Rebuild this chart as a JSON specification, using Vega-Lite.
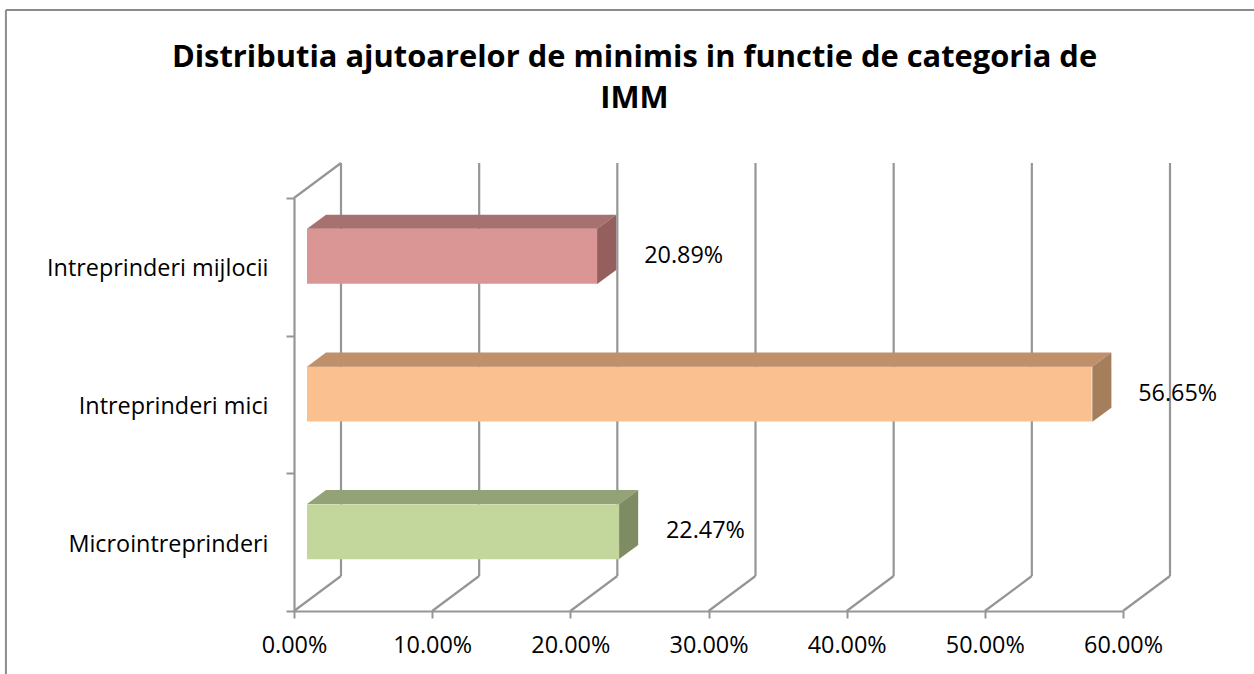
{
"$schema":"https://vega.github.io/schema/vega-lite/v6.json",
"width":829,"height":413,
"autosize":{"type":"none"},
"padding":{"left":294,"top":198,"right":131,"bottom":63},
"background":"white",
"view":{"stroke":null},
"config":{"font":"Open Sans"},
"title":{"text":["Distributia ajutoarelor de minimis in functie de categoria de","IMM"],"font":"Open Sans","fontSize":30.85,"fontWeight":"bold","color":"#000000","anchor":"middle","frame":"group","dx":-74,"offset":-106,"lineHeight":41},
"datasets":{
"bare":[
{"categorie":"Intreprinderi mijlocii","valoare":0.2089},
{"categorie":"Intreprinderi mici","valoare":0.5665},
{"categorie":"Microintreprinderi","valoare":0.2247}],
"repere":[{"prag":0},{"prag":0.1},{"prag":0.2},{"prag":0.3},{"prag":0.4},{"prag":0.5},{"prag":0.6}],
"sus":[
{"fata":"mijlocii sus","nivel":2.777,"de_la":0.00941,"pana_la":0.2194},
{"fata":"mijlocii sus","nivel":2.879,"de_la":0.02317,"pana_la":0.2332},
{"fata":"mici sus","nivel":1.775,"de_la":0.00941,"pana_la":0.5778},
{"fata":"mici sus","nivel":1.877,"de_la":0.02317,"pana_la":0.5916},
{"fata":"micro sus","nivel":0.777,"de_la":0.00941,"pana_la":0.2353},
{"fata":"micro sus","nivel":0.879,"de_la":0.02317,"pana_la":0.2491}],
"lateral":[
{"fata":"mijlocii lateral","poz":0.2194,"jos":2.375,"sus":2.777},
{"fata":"mijlocii lateral","poz":0.2332,"jos":2.477,"sus":2.879},
{"fata":"mici lateral","poz":0.5778,"jos":1.375,"sus":1.775},
{"fata":"mici lateral","poz":0.5916,"jos":1.477,"sus":1.877},
{"fata":"micro lateral","poz":0.2353,"jos":0.378,"sus":0.777},
{"fata":"micro lateral","poz":0.2491,"jos":0.480,"sus":0.879}]
},
"resolve":{"scale":{"y":"independent"}},
"layer":[
{"data":{"name":"repere"},
 "mark":{"type":"rule","color":"#969696","strokeWidth":2.2,"xOffset":47,"x2Offset":47,"yOffset":-35,"y2Offset":-35},
 "encoding":{
  "x":{"field":"prag","type":"quantitative","scale":{"domain":[0,0.6],"nice":false},
   "axis":{"values":[0,0.1,0.2,0.3,0.4,0.5,0.6],"format":".2%","grid":false,"title":null,"domainColor":"#969696","domainWidth":2.2,"tickColor":"#969696","tickWidth":2,"tickSize":7,"labelFont":"Open Sans","labelFontSize":23.4,"labelColor":"#000000","labelPadding":16,"labelFlush":false}},
  "y":{"datum":0,"type":"quantitative","scale":{"domain":[0,3],"nice":false},"axis":null},
  "y2":{"datum":3}}},
{"data":{"name":"repere"},
 "mark":{"type":"rule","color":"#969696","strokeWidth":2.2,"x2Offset":47,"y2Offset":-35},
 "encoding":{
  "x":{"field":"prag","type":"quantitative"},
  "x2":{"field":"prag"},
  "y":{"datum":0,"type":"quantitative","scale":{"domain":[0,3],"nice":false},"axis":null},
  "y2":{"datum":0}}},
{"data":{"values":[{"prag":0}]},
 "mark":{"type":"rule","color":"#969696","strokeWidth":2.2,"x2Offset":47,"y2Offset":-35},
 "encoding":{
  "x":{"field":"prag","type":"quantitative"},
  "x2":{"field":"prag"},
  "y":{"datum":3,"type":"quantitative","scale":{"domain":[0,3],"nice":false},"axis":null},
  "y2":{"datum":3}}},
{"data":{"values":[{"prag":-0.2085}]},
 "mark":{"type":"rule","color":"#8c8c8c","strokeWidth":2},
 "encoding":{
  "x":{"field":"prag","type":"quantitative"},
  "y":{"datum":-0.46,"type":"quantitative","scale":{"domain":[0,3],"nice":false},"axis":null},
  "y2":{"datum":4.366}}},
{"data":{"values":[{"prag":-0.2085,"capat":0.696}]},
 "mark":{"type":"rule","color":"#8c8c8c","strokeWidth":2},
 "encoding":{
  "x":{"field":"prag","type":"quantitative"},
  "x2":{"field":"capat"},
  "y":{"datum":4.366,"type":"quantitative","scale":{"domain":[0,3],"nice":false},"axis":null}}},
{"data":{"name":"bare"},
 "mark":{"type":"bar","size":55,"xOffset":15,"x2Offset":13,"yOffset":-10.5},
 "encoding":{
  "x":{"field":"valoare","type":"quantitative"},
  "x2":{"datum":0},
  "y":{"field":"categorie","type":"nominal","sort":null,
   "scale":{"domain":["Intreprinderi mijlocii","Intreprinderi mici","Microintreprinderi"],"paddingInner":0,"paddingOuter":0},
   "axis":{"title":null,"tickBand":"extent","domainColor":"#969696","domainWidth":2.2,"tickColor":"#969696","tickWidth":2,"tickSize":8,"labelFont":"Open Sans","labelFontSize":23.4,"labelColor":"#000000","labelPadding":18,"labelLimit":300,"labelOffset":2}},
  "color":{"field":"categorie","type":"nominal","scale":{"domain":["Intreprinderi mijlocii","Intreprinderi mici","Microintreprinderi","mijlocii sus","mici sus","micro sus","mijlocii lateral","mici lateral","micro lateral"],"range":["#D99694","#FAC090","#C3D69B","#A6716E","#BF9069","#94A377","#945F5C","#A57E5C","#7F8C63"]},"legend":null}}},
{"data":{"name":"sus"},
 "mark":{"type":"area","orient":"horizontal"},
 "encoding":{
  "y":{"field":"nivel","type":"quantitative","scale":{"domain":[0,3],"nice":false},"axis":null},
  "x":{"field":"de_la","type":"quantitative"},
  "x2":{"field":"pana_la"},
  "color":{"field":"fata","type":"nominal","legend":null}}},
{"data":{"name":"lateral"},
 "mark":{"type":"area","orient":"vertical"},
 "encoding":{
  "x":{"field":"poz","type":"quantitative"},
  "y":{"field":"jos","type":"quantitative","scale":{"domain":[0,3],"nice":false},"axis":null},
  "y2":{"field":"sus"},
  "color":{"field":"fata","type":"nominal","legend":null}}},
{"data":{"name":"bare"},
 "mark":{"type":"text","font":"Open Sans","fontSize":23.4,"color":"#000000","align":"center","baseline":"middle","xOffset":101,"yOffset":-11},
 "encoding":{
  "x":{"field":"valoare","type":"quantitative"},
  "y":{"field":"categorie","type":"nominal","sort":null,"scale":{"domain":["Intreprinderi mijlocii","Intreprinderi mici","Microintreprinderi"],"paddingInner":0,"paddingOuter":0},"axis":null},
  "text":{"field":"valoare","type":"quantitative","format":".2%"}}}
]
}
